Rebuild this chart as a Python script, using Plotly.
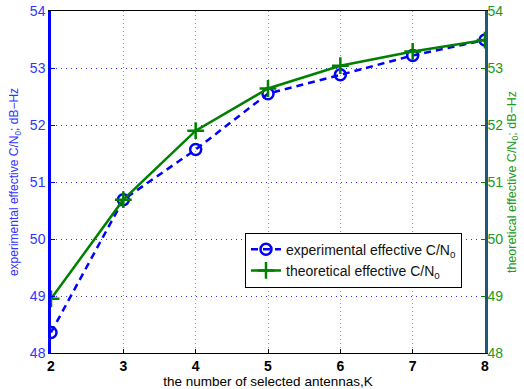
import plotly.graph_objects as go

K = [2, 3, 4, 5, 6, 7, 8]
experimental = [48.36, 50.69, 51.57, 52.55, 52.88, 53.22, 53.49]
theoretical = [48.95, 50.69, 51.90, 52.64, 53.04, 53.29, 53.49]
y_ticks = [48, 49, 50, 51, 52, 53, 54]

BLUE = "#0000ff"
GREEN = "#008000"
FONT = "Liberation Sans, Arial, sans-serif"

fig = go.Figure()
fig.add_trace(go.Scatter(
    x=K, y=experimental, name="experimental effective C/N<sub>0</sub>",
    mode="lines+markers", yaxis="y",
    line=dict(color=BLUE, width=2.5, dash="7px,5px"),
    marker=dict(symbol="circle-open", size=11, color=BLUE, line=dict(width=2.5, color=BLUE)),
))
fig.add_trace(go.Scatter(
    x=K, y=theoretical, name="theoretical effective C/N<sub>0</sub>",
    mode="lines+markers", yaxis="y2",
    line=dict(color=GREEN, width=2.5),
    marker=dict(symbol="cross-thin", size=12, color=GREEN, line=dict(width=2.5, color=GREEN)),
))

fig.update_layout(
    width=524, height=389,
    margin=dict(l=51, r=39, t=11, b=36, autoexpand=False),
    paper_bgcolor="white", plot_bgcolor="white",
    font=dict(family=FONT, size=13, color="black"),
    showlegend=True,
    legend=dict(
        x=0.447, y=0.352, xanchor="left", yanchor="top",
        bgcolor="white", bordercolor="black", borderwidth=1,
        font=dict(size=14, color="#111111"),
        tracegroupgap=2,
    ),
    xaxis=dict(
        range=[2, 8], tickvals=K, ticktext=[f"<b>{k}</b>" for k in K],
        showline=True, linecolor="black", linewidth=1.2, mirror=True,
        ticks="inside", ticklen=4, tickcolor="black",
        showgrid=True, gridcolor="#999999", griddash="1px,3px", gridwidth=1,
        zeroline=False, automargin=False,
        title=dict(text="the number of selected antennas,K", font=dict(size=13.5), standoff=0),
        tickfont=dict(size=14, color="black"),
    ),
    yaxis=dict(
        range=[48, 54], tickvals=y_ticks,
        showline=True, linecolor=BLUE, linewidth=2.5,
        ticks="inside", ticklen=4, tickcolor=BLUE,
        showgrid=True, gridcolor="#3333ff", griddash="1px,4px", gridwidth=1,
        zeroline=False, automargin=False,
        tickfont=dict(size=14, color="#3333ff"),
        title=dict(text="experimental effective C/N<sub>0</sub>; dB\u2212Hz", font=dict(size=12, color="#3333ff"), standoff=9),
    ),
    yaxis2=dict(
        range=[48, 54], tickvals=y_ticks, overlaying="y", side="right",
        showline=True, linecolor="#1b5b78", linewidth=2.5,
        ticks="inside", ticklen=4, tickcolor=GREEN,
        ticklabelstandoff=-3,
        showgrid=False, zeroline=False, automargin=False,
        tickfont=dict(size=14, color="#229922"),
        title=dict(text="theoretical effective C/N<sub>0</sub>; dB\u2212Hz", font=dict(size=12.5, color="#229922"), standoff=5),
    ),
)

fig.write_html("out.html")
